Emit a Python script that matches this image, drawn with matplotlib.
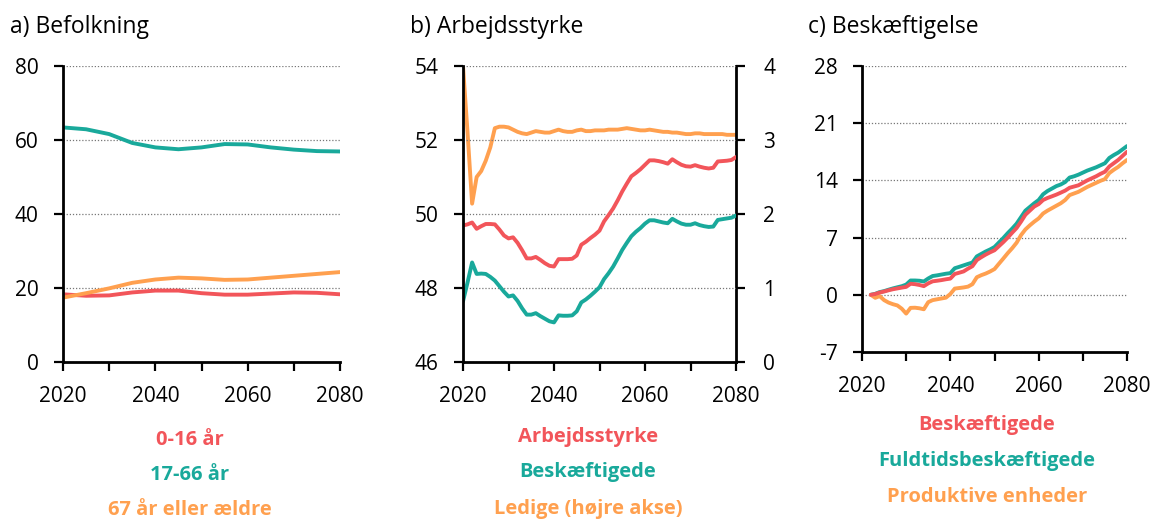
import numpy as np
import matplotlib
matplotlib.use("Agg")
from matplotlib import pyplot as plt

plt.rcParams['font.family'] = ['Open Sans', 'DejaVu Sans']
plt.rcParams['axes.unicode_minus'] = False

red = "#f2555a"
teal = "#19a99b"
orange = "#ffa04f"

# a) Befolkning, every 5 years
years_a = np.arange(2020, 2081, 5)
age_0_16 = [18.3, 17.9, 18.0, 18.8, 19.3, 19.3, 18.6, 18.2, 18.2, 18.5, 18.8, 18.7, 18.3]
age_17_66 = [63.4, 62.9, 61.6, 59.2, 58.0, 57.5, 58.0, 58.9, 58.8, 58.0, 57.4, 57.0, 56.9]
age_67 = [17.4, 18.6, 19.9, 21.4, 22.3, 22.8, 22.6, 22.2, 22.3, 22.8, 23.3, 23.8, 24.3]

# b) Arbejdsstyrke, annual
years_b = np.arange(2020, 2081)
arbejdsstyrke = [49.69, 49.72, 49.77, 49.60, 49.67, 49.73, 49.73, 49.72, 49.58, 49.42,
                 49.34, 49.37, 49.22, 49.02, 48.80, 48.80, 48.84, 48.76, 48.67, 48.60,
                 48.58, 48.78, 48.78, 48.78, 48.79, 48.88, 49.17, 49.25, 49.35, 49.44,
                 49.55, 49.80, 49.97, 50.15, 50.37, 50.61, 50.82, 51.02, 51.11, 51.21,
                 51.33, 51.45, 51.45, 51.43, 51.40, 51.36, 51.48, 51.40, 51.33, 51.29,
                 51.28, 51.32, 51.28, 51.25, 51.23, 51.25, 51.42, 51.43, 51.44, 51.46,
                 51.54]
beskaeftigede_b = [47.64, 48.15, 48.69, 48.38, 48.39, 48.38, 48.30, 48.20, 48.05, 47.90,
                   47.77, 47.80, 47.65, 47.45, 47.28, 47.28, 47.32, 47.24, 47.17, 47.10,
                   47.07, 47.26, 47.25, 47.25, 47.26, 47.37, 47.61, 47.69, 47.79, 47.90,
                   48.02, 48.24, 48.40, 48.58, 48.80, 49.03, 49.22, 49.40, 49.52, 49.62,
                   49.74, 49.83, 49.83, 49.80, 49.77, 49.75, 49.87, 49.80, 49.74, 49.71,
                   49.71, 49.75, 49.70, 49.67, 49.65, 49.66, 49.84, 49.86, 49.88, 49.90,
                   49.96]
ledige = [4.00, 3.10, 2.14, 2.50, 2.58, 2.72, 2.90, 3.16, 3.18, 3.18,
          3.17, 3.14, 3.11, 3.09, 3.08, 3.10, 3.12, 3.11, 3.10, 3.10,
          3.12, 3.14, 3.12, 3.11, 3.11, 3.13, 3.14, 3.12, 3.12, 3.13,
          3.13, 3.13, 3.14, 3.14, 3.14, 3.15, 3.16, 3.15, 3.14, 3.13,
          3.13, 3.14, 3.13, 3.12, 3.11, 3.11, 3.10, 3.10, 3.09, 3.08,
          3.08, 3.09, 3.09, 3.08, 3.08, 3.08, 3.08, 3.08, 3.07, 3.07,
          3.07]

# c) Beskæftigelse, annual from 2022
years_c = np.arange(2022, 2081)
beskaeftigede_c = [0.0, 0.1, 0.28, 0.4, 0.55, 0.68, 0.78, 0.88, 0.97, 1.35,
                   1.3, 1.2, 1.06, 1.4, 1.65, 1.72, 1.8, 1.9, 1.98, 2.55,
                   2.7, 2.86, 3.2, 3.5, 4.25, 4.6, 4.92, 5.2, 5.45, 5.95,
                   6.45, 7.0, 7.6, 8.17, 8.95, 9.8, 10.3, 10.8, 11.1, 11.6,
                   11.85, 12.05, 12.26, 12.5, 12.75, 13.1, 13.25, 13.4, 13.7, 14.0,
                   14.25, 14.5, 14.8, 15.06, 15.7, 16.1, 16.5, 17.0, 17.5]
fuldtid = [0.0, 0.12, 0.33, 0.45, 0.62, 0.78, 0.92, 1.05, 1.25, 1.75,
           1.75, 1.72, 1.63, 2.0, 2.3, 2.38, 2.48, 2.58, 2.65, 3.25,
           3.42, 3.6, 3.78, 3.95, 4.7, 5.0, 5.3, 5.55, 5.85, 6.4,
           6.95, 7.55, 8.1, 8.7, 9.5, 10.3, 10.75, 11.2, 11.6, 12.3,
           12.7, 13.0, 13.3, 13.5, 13.8, 14.35, 14.5, 14.7, 14.95, 15.2,
           15.4, 15.6, 15.85, 16.1, 16.75, 17.1, 17.4, 17.8, 18.2]
produktive = [0.0, -0.37, -0.16, -0.65, -0.95, -1.15, -1.3, -1.7, -2.3, -1.6,
              -1.58, -1.65, -1.77, -0.9, -0.65, -0.55, -0.45, -0.35, 0.1, 0.76,
              0.83, 0.9, 1.0, 1.3, 2.15, 2.4, 2.6, 2.85, 3.15, 3.8,
              4.44, 5.1, 5.7, 6.37, 7.3, 8.0, 8.5, 8.95, 9.35, 9.95,
              10.3, 10.6, 10.9, 11.2, 11.6, 12.2, 12.4, 12.6, 12.9, 13.2,
              13.45, 13.7, 13.95, 14.16, 14.9, 15.3, 15.65, 16.1, 16.5]

W, H = 1153, 520
fig = plt.figure(figsize=(W/100, H/100), dpi=100)


def px_axes(left, right, top, bottom):
    return fig.add_axes([left/W, 1 - bottom/H, (right-left)/W, (bottom-top)/H])


def style(ax, yticks):
    for s in ["top", "right"]:
        ax.spines[s].set_visible(False)
    for s in ["left", "bottom"]:
        ax.spines[s].set_linewidth(2)
    ax.tick_params(width=1.6, length=6.5, labelsize=15, pad=11)
    ax.set_xlim(2020, 2080)
    ax.set_xticks(np.arange(2020, 2081, 10))
    ax.set_xticklabels([str(y) if y % 20 == 0 else "" for y in range(2020, 2081, 10)])
    ax.set_yticks(yticks)
    ax.set_ylim(yticks[0], yticks[-1])
    ax.grid(axis="y", ls=(0, (1, 1.5)), color="#777777", lw=0.9)
    ax.set_axisbelow(True)


lw = 2.8

# a
ax1 = px_axes(63, 340, 66, 362)
ax1.plot(years_a, age_0_16, color=red, lw=lw, solid_capstyle="round")
ax1.plot(years_a, age_17_66, color=teal, lw=lw, solid_capstyle="round")
ax1.plot(years_a, age_67, color=orange, lw=lw, solid_capstyle="round")
style(ax1, [0, 20, 40, 60, 80])

# b
ax2 = px_axes(463, 736, 66, 362)
ax2b = ax2.twinx()
ax2b.plot(years_b, ledige, color=orange, lw=lw, solid_capstyle="round")
ax2.plot(years_b, arbejdsstyrke, color=red, lw=lw, solid_capstyle="round")
ax2.plot(years_b, beskaeftigede_b, color=teal, lw=lw, solid_capstyle="round")
style(ax2, [46, 48, 50, 52, 54])
ax2b.set_ylim(0, 4)
ax2b.set_yticks([0, 1, 2, 3, 4])
for s in ["top", "left", "bottom"]:
    ax2b.spines[s].set_visible(False)
ax2b.spines["right"].set_linewidth(2)
ax2b.tick_params(width=1.6, length=6.5, labelsize=15, pad=13)
ax2.set_zorder(ax2b.get_zorder() + 1)
ax2.patch.set_visible(False)

# c
ax3 = px_axes(862, 1127, 66, 352)
ax3.plot(years_c, fuldtid, color=teal, lw=lw, solid_capstyle="round")
ax3.plot(years_c, produktive, color=orange, lw=lw, solid_capstyle="round")
ax3.plot(years_c, beskaeftigede_c, color=red, lw=lw, solid_capstyle="round")
style(ax3, [-7, 0, 7, 14, 21, 28])

# titles
fig.text(10/W, 1 - 27/H, "a) Befolkning", fontsize=16.5, va="center", ha="left")
fig.text(410/W, 1 - 27/H, "b) Arbejdsstyrke", fontsize=16.5, va="center", ha="left")
fig.text(808/W, 1 - 27/H, "c) Beskæftigelse", fontsize=16.5, va="center", ha="left")

# legends
legends = [
    (190, [440, 475, 510], ["0-16 år", "17-66 år", "67 år eller ældre"]),
    (588, [437, 472, 509], ["Arbejdsstyrke", "Beskæftigede", "Ledige (højre akse)"]),
    (987, [425, 461, 497], ["Beskæftigede", "Fuldtidsbeskæftigede", "Produktive enheder"]),
]
for x, ys, labels in legends:
    for y, lab, col in zip(ys, labels, [red, teal, orange]):
        fig.text(x/W, 1 - y/H, lab, color=col, fontsize=14.5, fontweight="bold",
                 ha="center", va="center")

fig.savefig("out.png", dpi=100)
